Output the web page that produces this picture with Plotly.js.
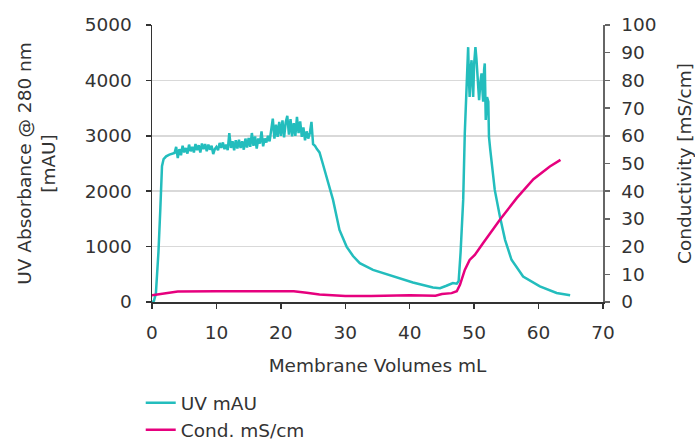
<!DOCTYPE html>
<html>
<head>
<meta charset="utf-8">
<script src="https://cdn.plot.ly/plotly-3.0.1.min.js"></script>
<style>html,body{margin:0;padding:0;background:#fff;}#chart{width:695px;height:441px;}</style>
</head>
<body>
<div id="chart"></div>
<script>
// UV absorbance (mAU) vs membrane volumes
const uvX = [0,0.3,0.6,1.0,1.3,1.55,1.8,2.2,2.7,3.2,3.5,
  3.75,4.0,4.25,4.5,4.75,5.0,5.25,5.5,5.75,6.0,6.25,6.5,6.75,7.0,7.25,7.5,7.75,8.0,8.25,8.5,8.75,9.0,9.25,9.5,9.75,
  10.0,10.25,10.5,10.75,11.0,11.25,11.5,11.75,12.0,12.25,12.5,12.75,13.0,13.25,13.5,13.75,14.0,14.25,14.5,14.75,
  15.0,15.25,15.5,15.75,16.0,16.25,16.5,16.75,17.0,17.25,17.5,17.75,18.0,18.25,18.5,18.75,19.0,19.25,19.5,19.75,
  20.0,20.25,20.5,20.75,21.0,21.25,21.5,21.75,22.0,22.25,22.5,22.75,23.0,23.25,23.5,23.75,24.0,24.25,24.5,24.75,25.0,
  25.3,25.6,26.0,26.5,27.1,28.1,29.1,30.2,31.2,32.25,34.3,37.4,40.5,43.6,44.7,45.7,46.2,46.7,47.3,47.6,47.9,48.3,48.55,
  48.7,48.8,49.07,49.2,49.3,49.45,49.6,49.75,49.85,50.0,50.2,50.35,50.45,50.6,50.77,51.0,51.15,51.3,51.4,51.55,51.65,51.8,
  52.0,52.2,52.3,52.5,52.7,53.2,54.0,54.8,55.8,57.6,60.2,62.8,64.9];
const uvY = [0,20,150,900,1700,2450,2580,2630,2660,2680,2690,
  2800,2600,2760,2650,2820,2700,2780,2680,2840,2720,2800,2700,2850,2740,2830,2700,2860,2760,2850,2720,2840,2750,2820,2670,2760,
  2800,2740,2870,2780,2880,2760,2840,2740,3050,2780,2900,2740,2920,2770,2930,2780,2900,2750,2950,2790,
  2960,2800,3050,2820,2990,2770,2950,2860,3080,2810,2950,2880,3000,2900,3120,3310,2950,3200,2980,3250,
  3000,3280,2970,3240,3360,3020,3300,2990,3230,3000,3340,3050,3260,2980,3150,2920,3080,2950,3050,3250,2850,
  2820,2760,2700,2500,2260,1843,1300,1000,830,700,580,460,353,263,250,293,320,342,330,380,900,1843,3050,
  3600,3700,4600,4000,3700,4200,4365,3900,3700,4300,4600,4400,4185,3900,3645,4000,4126,3800,3614,4200,4306,3285,
  3700,3614,2984,2750,2504,2023,1542,1122,762,461,281,162,120];

// Conductivity (mS/cm)
const condX = [0,2,4,10,15,20,22,24,26,28,30,34,37,40,44,45,46.5,47.3,47.8,48.55,49.3,50.1,51.4,54,56.6,59.2,61.75,63.4];
const condY = [2.4,3.2,3.8,3.9,3.9,4.1,3.9,3.3,2.7,2.4,2.2,2.2,2.4,2.4,2.3,2.9,3.2,3.9,6.2,11.6,15.2,17,21.3,29.7,37.5,44.3,48.9,51.3];

const names = ['UV mAU', 'Cond. mS/cm'];
const xTitle = 'Membrane Volumes mL';
const yTitle = 'UV Absorbance @ 280 nm<br>[mAU]';
const y2Title = 'Conductivity [mS/cm]';

const teal = '#23bdbd';
const pink = '#e6007e';
const fontFam = 'DejaVu Sans, sans-serif';
const txt = '#333333';
const fs = 18.5;

const traces = [
  {x: uvX, y: uvY, name: names[0], type: 'scatter', mode: 'lines', line: {color: teal, width: 2.5}, yaxis: 'y'},
  {x: condX, y: condY, name: names[1], type: 'scatter', mode: 'lines', line: {color: pink, width: 2.5}, yaxis: 'y2'}
];

const layout = {
  width: 695, height: 441,
  margin: {l: 152, r: 92, t: 25, b: 139, autoexpand: false},
  paper_bgcolor: '#fff', plot_bgcolor: '#fff',
  font: {family: fontFam, size: fs, color: txt},
  showlegend: true,
  legend: {orientation: 'v', x: -0.025, xanchor: 'left', y: -0.297, yanchor: 'top',
    font: {family: fontFam, size: fs, color: txt}, bgcolor: 'rgba(0,0,0,0)', tracegroupgap: 0},
  xaxis: {range: [0, 70], dtick: 10, tick0: 0, showgrid: false, zeroline: false,
    showline: true, linecolor: '#333', linewidth: 1.5, ticks: 'outside', ticklen: 5, tickcolor: '#333', tickwidth: 1.5,
    ticklabelstandoff: 8,
    title: {text: xTitle, standoff: 17, font: {family: fontFam, size: fs, color: txt}}},
  yaxis: {range: [0, 5000], dtick: 1000, tick0: 0, showgrid: true, gridcolor: '#d9d9d9', gridwidth: 1.5, zeroline: false,
    showline: true, linecolor: '#333', linewidth: 1.5, ticks: 'outside', ticklen: 5, tickcolor: '#333', tickwidth: 1.5,
    ticklabelstandoff: 10,
    title: {text: yTitle, standoff: 24, font: {family: fontFam, size: fs, color: txt}}},
  yaxis2: {range: [0, 100], dtick: 10, tick0: 0, overlaying: 'y', side: 'right', showgrid: false, zeroline: false,
    showline: true, linecolor: '#666', linewidth: 1.5, ticks: 'outside', ticklen: 5, tickcolor: '#666', tickwidth: 1.5,
    ticklabelstandoff: 8,
    title: {text: y2Title, standoff: 22, font: {family: fontFam, size: fs, color: txt}}}
};

Plotly.newPlot('chart', traces, layout, {displayModeBar: false, staticPlot: true});
</script>
</body>
</html>
